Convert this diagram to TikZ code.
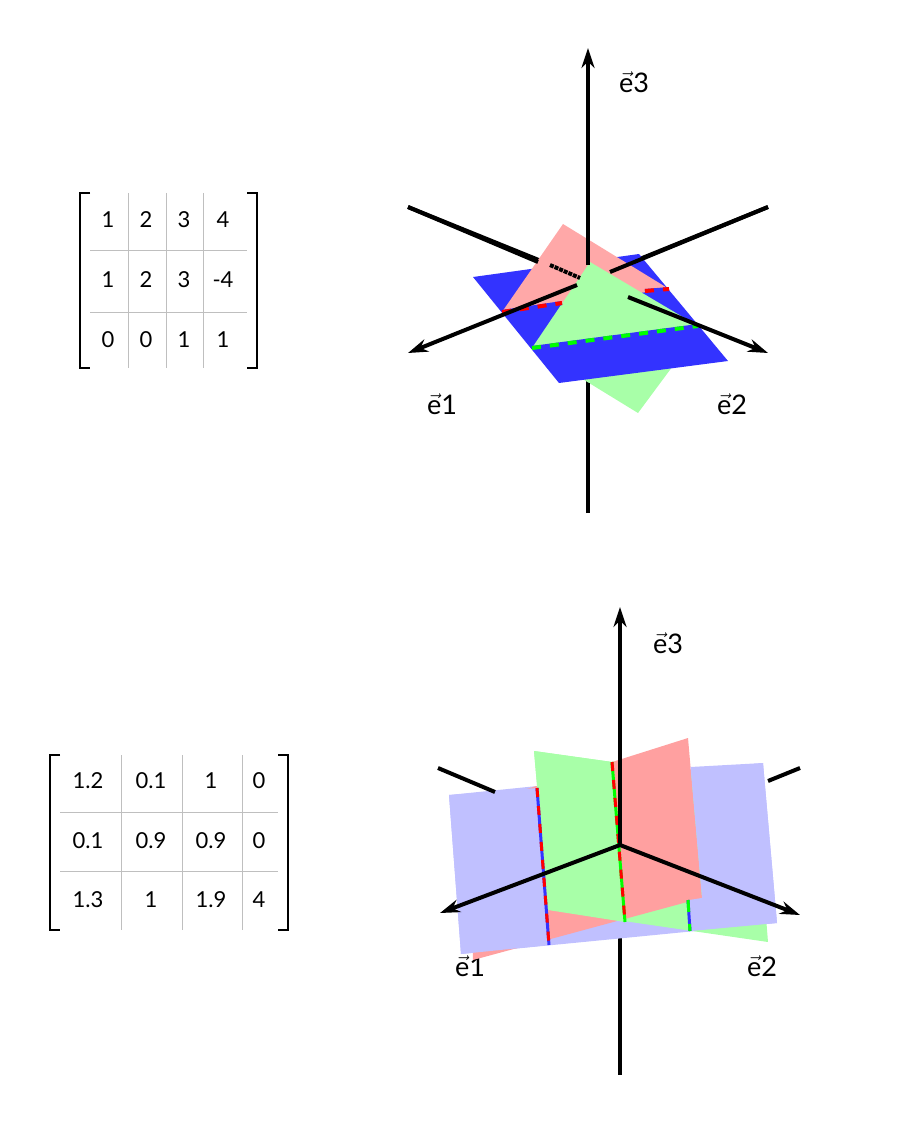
\documentclass[tikz,border=0pt]{standalone}
\usepackage{fontspec}
\setmainfont{Lato}
\usetikzlibrary{arrows.meta}
\definecolor{planeblue}{RGB}{51,51,255}
\definecolor{planepink}{RGB}{255,168,168}
\definecolor{planegreen}{RGB}{168,255,168}
\definecolor{planelav}{RGB}{192,192,255}
\tikzset{
  axis/.style={line width=4pt},
  axisarrow/.style={axis, -{Stealth[length=20pt,width=13pt]}},
  cell/.style={font=\fontsize{22}{22}\selectfont},
  lbl/.style={font=\fontsize{27}{27}\selectfont},
  grid/.style={gray!50, line width=0.6pt},
  bracket/.style={line width=1.2pt},
  seam/.style={line width=4pt, dash pattern=on 9pt off 9pt},
}
\newcommand{\evec}[1]{\(\vec{\mbox{e}}\)#1}
\begin{document}
\begin{tikzpicture}[x=1pt,y=-1pt]
\useasboundingbox (0,0) rectangle (900,1123);
% top matrix
\draw[bracket] (90,193) -- (80,193) -- (80,368) -- (90,368);
\draw[bracket] (247,193) -- (257,193) -- (257,368) -- (247,368);
\foreach \x in {128,166,203} \draw[grid] (\x,193) -- (\x,368);
\foreach \y in {250,312} \draw[grid] (90,\y) -- (247,\y);
\foreach \v [count=\i from 0] in {1,2,3,4,1,2,3,-4,0,0,1,1} {
  \pgfmathtruncatemacro{\r}{int(\i/4)}
  \pgfmathtruncatemacro{\c}{mod(\i,4)}
  \pgfmathsetmacro{\cx}{{108,146,184,223}[\c]}
  \pgfmathsetmacro{\cy}{{220,280,340}[\r]}
  \node[cell] (ta\i) at (\cx,\cy) {\v};
}
% bottom matrix
\draw[bracket] (60,755) -- (50,755) -- (50,930) -- (60,930);
\draw[bracket] (278,755) -- (288,755) -- (288,930) -- (278,930);
\foreach \x in {121,182,242} \draw[grid] (\x,755) -- (\x,930);
\foreach \y in {812,871} \draw[grid] (60,\y) -- (278,\y);
\foreach \v [count=\i from 0] in {1.2,0.1,1,0,0.1,0.9,0.9,0,1.3,1,1.9,4} {
  \pgfmathtruncatemacro{\r}{int(\i/4)}
  \pgfmathtruncatemacro{\c}{mod(\i,4)}
  \pgfmathsetmacro{\cx}{{88,151,211,259}[\c]}
  \pgfmathsetmacro{\cy}{{781,841,900}[\r]}
  \node[cell] (ba\i) at (\cx,\cy) {\v};
}
% top frame
\coordinate (to) at (588,280);
\coordinate (tz) at (588,48);
\coordinate (te1) at (408,353);
\coordinate (te2) at (768,353);
\draw[axis] (588,513) -- (588,265);
\draw[axis] (408,207) -- (to) -- (768,207);
\node[lbl] (tl3) at (634,82) {\evec{3}};
\node[lbl] (tl1) at (442,404) {\evec{1}};
\node[lbl] (tl2) at (732,404) {\evec{2}};
\fill[planegreen] (590,262) -- (701,328) -- (638,413) -- (532,348) -- cycle;
\fill[planeblue] (473,277) -- (639,254) -- (728,361) -- (559,383) -- cycle;
\fill[planepink] (563,224) -- (669,289) -- (502,312) -- cycle;
\fill[planegreen] (590,262) -- (698,326) -- (532,348) -- cycle;
\draw[planeblue, line width=4pt] (502,312) -- (562,303) (645,291) -- (669,289);
\draw[red, seam] (502,312) -- (562,303) (645,291) -- (669,289);
\draw[planeblue, line width=4pt] (532,348) -- (698,326);
\draw[green, seam] (532,348) -- (698,326);
\draw[axis] (408,207) -- (538,262);
\draw[axis, dash pattern=on 4pt off 1pt] (550,265) -- (580,278);
\draw[axis] (768,207) -- (610,272);
\draw[axisarrow] (588,265) -- (tz);
\draw[axis] (588,383) -- (588,513);
\draw[axisarrow] (577,285) -- (te1);
\draw[axisarrow] (628,297) -- (te2);
% bottom frame
\coordinate (bo) at (620,845);
\coordinate (bz) at (620,607);
\coordinate (be1) at (440,913);
\coordinate (be2) at (800,915);
\node[lbl] (bl3) at (668,643) {\evec{3}};
\node[lbl] (bl1) at (470,966) {\evec{1}};
\node[lbl] (bl2) at (762,966) {\evec{2}};
\draw[axis] (620,938) -- (620,1075);
\fill[planelav] (449,795) -- (763,763) -- (777,923) -- (461,954) -- cycle;
\fill[planegreen] (534,751) -- (755,782) -- (768,942) -- (548,910) -- cycle;
\fill[planepink!95!red] (470,807) -- (688,738) -- (702,898) -- (473,960) -- cycle;
\fill[planegreen] (534,751) -- (612,762) -- (625,922) -- (548,910) -- cycle;
\fill[planelav] (449,795) -- (537,788) -- (549,945) -- (461,954) -- cycle;
\fill[planelav] (690.5,767) -- (763,763) -- (777,923) -- (691,931) -- (689,900) -- (702,898) -- cycle;
\draw[planeblue, line width=3pt] (537,788) -- (549,945);
\draw[red, seam, line width=3pt] (537,788) -- (549,945);
\draw[green, line width=3pt] (612,762) -- (625,922);
\draw[red, seam, line width=3pt] (612,762) -- (625,922);
\draw[planeblue, line width=3pt] (688,900) -- (690,931);
\draw[green, seam, line width=3pt, dash pattern=on 12pt off 12pt] (688,900) -- (690,931);
\draw[axis] (438,768) -- (495,792);
\draw[axis] (800,768) -- (768,781);
\draw[axisarrow] (bo) -- (bz);
\draw[axisarrow] (bo) -- (be1);
\draw[axisarrow] (bo) -- (be2);
\end{tikzpicture}
\end{document}
